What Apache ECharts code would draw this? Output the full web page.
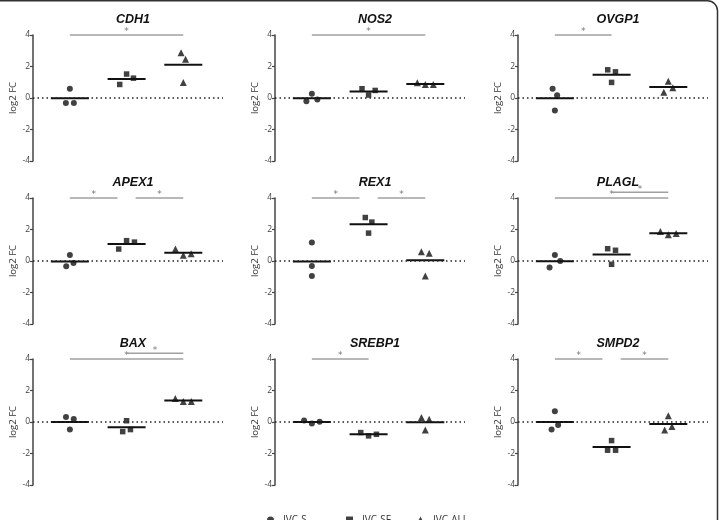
<!DOCTYPE html>
<html>
<head>
<meta charset="utf-8">
<script src="https://cdn.jsdelivr.net/npm/echarts@6/dist/echarts.min.js"></script>
<style>
  html, body { margin: 0; padding: 0; background: #fff; }
  #main { width: 719px; height: 520px; }
</style>
</head>
<body>
<div id="main"></div>
<script>
// gene panels, read left to right, top to bottom
var genes = ['CDH1', 'NOS2', 'OVGP1', 'APEX1', 'REX1', 'PLAGL', 'BAX', 'SREBP1', 'SMPD2'];
var groups = ['IVC-S', 'IVC-SF', 'IVC-ALI'];

// log2 FC per replicate, in the left-to-right order of the dots
var ivcS = [
  [-0.32, 0.59, -0.32],
  [-0.21, 0.27, -0.10],
  [0.59, -0.80, 0.17],
  [-0.34, 0.38, -0.13],
  [1.18, -0.32, -0.95],
  [-0.42, 0.38, 0.00],
  [0.31, -0.48, 0.19],
  [0.10, -0.10, 0.02],
  [-0.48, 0.69, -0.19]
];
var ivcSF = [
  [0.86, 1.52, 1.26],
  [0.59, 0.19, 0.48],
  [1.79, 0.99, 1.66],
  [0.76, 1.29, 1.20],
  [2.76, 1.77, 2.47],
  [0.78, -0.21, 0.68],
  [-0.61, 0.08, -0.48],
  [-0.67, -0.88, -0.78],
  [-1.79, -1.18, -1.79]
];
var ivcALI = [
  [2.88, 0.99, 2.46],
  [0.97, 0.86, 0.86],
  [0.36, 1.07, 0.65],
  [0.76, 0.36, 0.46],
  [0.59, -0.95, 0.49],
  [1.88, 1.67, 1.75],
  [1.49, 1.30, 1.30],
  [0.29, -0.50, 0.17],
  [-0.50, 0.40, -0.29]
];

// significant pairs: [groupA, groupB, stack level]
var sigPairs = [
  [[0, 2, 0]],
  [[0, 2, 0]],
  [[0, 1, 0]],
  [[0, 1, 0], [1, 2, 0]],
  [[0, 1, 0], [1, 2, 0]],
  [[0, 2, 0], [1, 2, 1]],
  [[0, 2, 0], [1, 2, 1]],
  [[0, 1, 0]],
  [[0, 1, 0], [1, 2, 0]]
];

var yTicks = [-4, -2, 0, 2, 4];

var chart = echarts.init(document.getElementById('main'));

var colLeft = [33, 275, 518];
var rowTop = [35, 198, 359];
var W = 190, H = 126;
var XMIN = -0.65, XMAX = 2.7;
var pxX = W / (XMAX - XMIN);
var pxY = H / (yTicks[yTicks.length - 1] - yTicks[0]);
var symbols = ['circle', 'rect', 'triangle'];
var symSizes = [6, 5.5, 7];
var D = 8; // min distance between dots (px)
var allGroups = [ivcS, ivcSF, ivcALI];

// spread overlapping dots sideways
function spread(vals) {
  var step = 0;
  for (var i = 0; i < vals.length; i++) {
    for (var j = i + 1; j < vals.length; j++) {
      var dy = Math.abs(vals[i] - vals[j]) * pxY;
      if (dy < D) step = Math.max(step, Math.sqrt(D * D - dy * dy) / (j - i));
    }
  }
  return vals.map(function (v, i) { return (i - (vals.length - 1) / 2) * step / pxX; });
}

function mean(a) {
  var s = 0;
  a.forEach(function (v) { s += v; });
  return s / a.length;
}

var grids = [], xAxes = [], yAxes = [], titles = [], series = [];

genes.forEach(function (gene, g) {
  var col = g % 3, row = Math.floor(g / 3);
  grids.push({ left: colLeft[col], top: rowTop[row], width: W, height: H });
  xAxes.push({ gridIndex: g, type: 'value', min: XMIN, max: XMAX, show: false });
  yAxes.push({
    gridIndex: g, type: 'value', min: yTicks[0], max: yTicks[yTicks.length - 1], interval: 2,
    name: 'log2 FC', nameLocation: 'middle', nameGap: 14,
    nameTextStyle: { fontSize: 9.5, color: '#333', fontFamily: 'Open Sans' },
    axisLine: { show: true, onZero: false, lineStyle: { color: '#444', width: 1.5 } },
    axisTick: { show: true, length: 3, lineStyle: { color: '#444', width: 1.2 } },
    axisLabel: { fontSize: 8.5, color: '#444', margin: 3, fontFamily: 'Open Sans' },
    splitLine: { show: false }
  });
  titles.push({
    text: gene, left: colLeft[col] + W / 2, top: rowTop[row] - 27, textAlign: 'center',
    textStyle: { fontFamily: 'Liberation Sans', fontWeight: 'bold', fontStyle: 'italic', fontSize: 12.5, color: '#111' }
  });

  var means = [];
  allGroups.forEach(function (grp, k) {
    var vals = grp[g];
    var off = spread(vals);
    means.push([k, mean(vals)]);
    var s = {
      name: groups[k], type: 'scatter', xAxisIndex: g, yAxisIndex: g,
      symbol: symbols[k], symbolSize: symSizes[k],
      itemStyle: { color: '#111' },
      z: 4,
      data: vals.map(function (v, i) { return [k + off[i], v]; })
    };
    if (k === 0) {
      s.markLine = {
        silent: true, symbol: 'none', label: { show: false },
        lineStyle: { color: '#222', type: [1.5, 3], width: 1.5 },
        data: [{ yAxis: 0 }]
      };
    }
    series.push(s);
  });

  // mean bars
  series.push({
    type: 'custom', xAxisIndex: g, yAxisIndex: g, z: 3, silent: true,
    data: means,
    renderItem: function (params, api) {
      var a = api.coord([api.value(0) - 0.335, api.value(1)]);
      var b = api.coord([api.value(0) + 0.335, api.value(1)]);
      return { type: 'line', shape: { x1: a[0], y1: a[1], x2: b[0], y2: b[1] },
        style: { stroke: '#111', lineWidth: 2 } };
    }
  });

  // significance bars
  var bars = sigPairs[g];
  var barData = bars.map(function (p) {
    var x0 = p[0], x1 = p[1];
    bars.forEach(function (q) {
      if (q === p || q[2] !== p[2]) return;
      if (q[0] === p[1]) x1 -= 0.16;
      if (q[1] === p[0]) x0 += 0.16;
    });
    return [x0, x1, p[2]];
  });
  series.push({
    type: 'custom', xAxisIndex: g, yAxisIndex: g, z: 2, silent: true, clip: false,
    data: barData,
    renderItem: function (params, api) {
      var y = 4 + api.value(2) * 0.36;
      var a = api.coord([api.value(0), y]);
      var b = api.coord([api.value(1), y]);
      return { type: 'group', children: [
        { type: 'line', shape: { x1: a[0], y1: a[1], x2: b[0], y2: b[1] },
          style: { stroke: '#a0a0a0', lineWidth: 1.5 } },
        { type: 'text', x: (a[0] + b[0]) / 2, y: a[1] - 3,
          style: { text: '*', fill: '#777', fontSize: 9, align: 'center', verticalAlign: 'middle', fontFamily: 'DejaVu Sans' } }
      ] };
    }
  });
});

var legendLeft = [262, 341, 412];
var legends = groups.map(function (name, k) {
  return {
    left: legendLeft[k], top: 510, itemWidth: 7, itemHeight: 7, selectedMode: false,
    data: [{ name: name, icon: symbols[k], itemStyle: { color: '#111' } }],
    textStyle: { fontSize: 10, color: '#333', fontFamily: 'Open Sans', padding: [0, 0, 0, 4] }
  };
});

chart.setOption({
  backgroundColor: '#fff',
  animation: false,
  title: titles,
  legend: legends,
  grid: grids,
  xAxis: xAxes,
  yAxis: yAxes,
  series: series,
  graphic: [{
    type: 'rect', silent: true,
    shape: { x: -20, y: 0.75, width: 737.5, height: 600, r: 10 },
    style: { fill: 'none', stroke: '#333', lineWidth: 1.5 }
  }]
});
</script>
</body>
</html>
